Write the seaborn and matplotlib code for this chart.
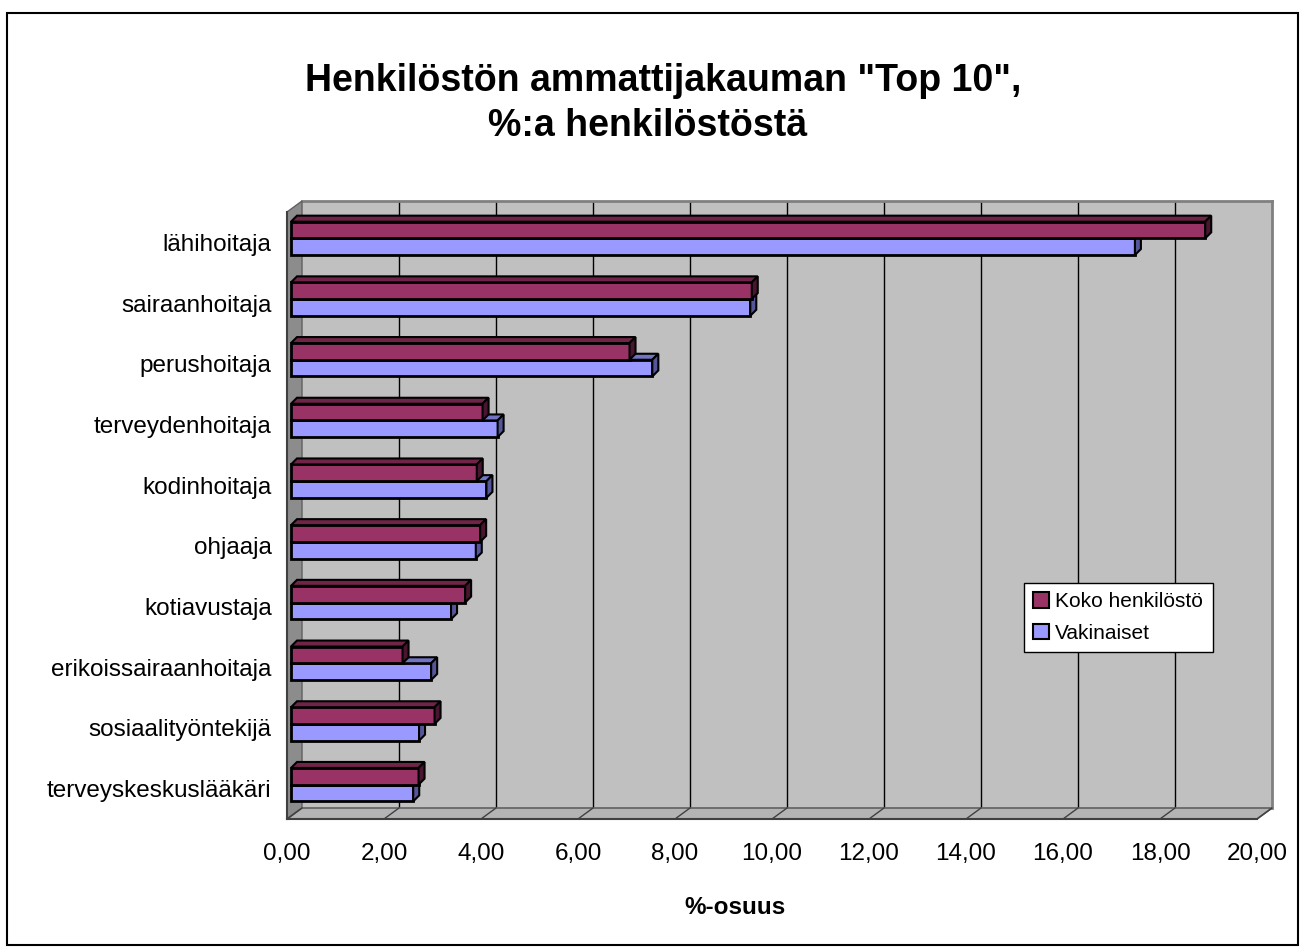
import numpy as np
import pandas as pd
import matplotlib
matplotlib.use("Agg")
import matplotlib.pyplot as plt
import matplotlib.transforms as mtransforms
from matplotlib.patches import Polygon, Rectangle, Patch
from matplotlib.lines import Line2D
from matplotlib.ticker import FuncFormatter
import seaborn as sns

# data
ammatit = ["lähihoitaja", "sairaanhoitaja", "perushoitaja", "terveydenhoitaja",
           "kodinhoitaja", "ohjaaja", "kotiavustaja", "erikoissairaanhoitaja",
           "sosiaalityöntekijä", "terveyskeskuslääkäri"]
koko = [18.85, 9.50, 6.98, 3.95, 3.83, 3.90, 3.59, 2.30, 2.96, 2.63]
vakinaiset = [17.40, 9.47, 7.45, 4.26, 4.03, 3.81, 3.30, 2.89, 2.64, 2.52]
ryhmat = ["Koko henkilöstö", "Vakinaiset"]
varit = ["#993366", "#9999FF"]
x_ticks = np.arange(0, 21, 2)

df = pd.DataFrame({
    "ammatti": ammatit * 2,
    "osuus": koko + vakinaiset,
    "ryhmä": [ryhmat[0]] * len(ammatit) + [ryhmat[1]] * len(ammatit),
})

sns.set_style("white")
plt.rcParams['font.family'] = ['Liberation Sans', 'DejaVu Sans']
plt.rcParams.update({"text.color": "black", "axes.labelcolor": "black",
                     "xtick.color": "black", "ytick.color": "black"})

W, H = 1305, 952
fig = plt.figure(figsize=(W / 100, H / 100), dpi=100)
ident = mtransforms.IdentityTransform()


def px_axes(left, top, right, bottom):
    return [left / W, 1 - bottom / H, (right - left) / W, (bottom - top) / H]


# front plane of the plot and the depth of the fake 3d box
FL, FT, FR, FB = 287, 212, 1257, 819
DX, DY = 15, 11

# back wall
back = fig.add_axes(px_axes(FL + DX, FT - DY, FR + DX, FB - DY))
back.set_facecolor("#C0C0C0")
back.set_xlim(0, 20)
back.set_xticks(x_ticks[1:-1])
back.set_yticks([])
back.tick_params(length=0, labelbottom=False)
back.grid(axis="x", color="black", lw=1)
for s in ["left", "bottom"]:
    back.spines[s].set_visible(False)
for s in ["top", "right"]:
    back.spines[s].set_color("#808080")
    back.spines[s].set_linewidth(2)

# left wall and floor
fig.add_artist(Polygon([(FL, H - FT), (FL, H - FB), (FL + DX, H - FB + DY), (FL + DX, H - FT + DY)],
                       closed=True, fc="#8C8C8C", ec="#606060", lw=1, transform=ident, zorder=0.5))
fig.add_artist(Polygon([(FL, H - FB), (FR, H - FB), (FR + DX, H - FB + DY), (FL + DX, H - FB + DY)],
                       closed=True, fc="#B4B4B4", ec="#606060", lw=1.2, transform=ident, zorder=0.5))

# front axes with the bars
ax = fig.add_axes(px_axes(FL, FT, FR, FB))
ax.set_zorder(1)
sns.barplot(data=df, x="osuus", y="ammatti", hue="ryhmä", palette=varit, orient="h",
            width=0.55, saturation=1, edgecolor="black", linewidth=2, legend=False, ax=ax)
ax.set_facecolor("none")
ax.set_xlim(0, 20)
ax.set_ylim(len(ammatit) - 0.5, -0.5)
ax.set_xlabel("")
ax.set_ylabel("")

ax.set_xticks(x_ticks)
ax.xaxis.set_major_formatter(FuncFormatter(lambda v, p: f"{v:.2f}".replace(".", ",")))
ax.tick_params(axis="x", length=8, width=1, color="#404040", pad=9, labelsize=17.5)
ax.set_yticks(np.arange(-0.5, len(ammatit), 1), labels=[""] * (len(ammatit) + 1))
ax.set_yticks(np.arange(len(ammatit)), labels=ammatit, minor=True)
ax.tick_params(axis="y", which="major", length=8.5, width=1, color="#404040")
ax.tick_params(axis="y", which="minor", length=0, pad=11, labelsize=17.5)
for s in ["top", "right"]:
    ax.spines[s].set_visible(False)
for s in ["left", "bottom"]:
    ax.spines[s].set_color("#404040")
    ax.spines[s].set_linewidth(1.5)

# small diagonal tick lines on the floor
for v in x_ticks:
    xf = ax.transData.transform((v, 0))[0]
    fig.add_artist(Line2D([xf, xf + DX], [H - FB, H - FB + DY], color="#404040", lw=1,
                          transform=ident, zorder=0.6))

# 3d faces of the bars
D = 6
off = mtransforms.offset_copy(ax.transData, fig=fig, x=4, y=4, units="dots")
face_cols = [("#702448", "#4a1530", 4), ("#7373C4", "#55559A", 3)]
for cont, (top_c, side_c, z) in zip(ax.containers, face_cols):
    for bar in cont:
        bar.set_transform(off)
        bar.set_zorder(z)
        x0, y0, w, h = bar.get_x(), bar.get_y(), bar.get_width(), bar.get_height()
        (px0, py0), (px1, py1) = off.transform([(x0, y0), (x0 + w, y0 + h)])
        l, r = min(px0, px1), max(px0, px1)
        b, t = min(py0, py1), max(py0, py1)
        ax.add_patch(Polygon([(l, t), (r, t), (r + D, t + D), (l + D, t + D)], closed=True,
                             fc=top_c, ec="black", lw=1.5, transform=ident, clip_on=False, zorder=z))
        ax.add_patch(Polygon([(r, b), (r, t), (r + D, t + D), (r + D, b + D)], closed=True,
                             fc=side_c, ec="black", lw=1.5, transform=ident, clip_on=False, zorder=z))

# legend
handles = [Patch(facecolor=c, edgecolor="black", lw=1.5) for c in varit]
leg = fig.legend(handles, ryhmat, loc="upper left", bbox_to_anchor=(1024 / W, 1 - 583 / H),
                 frameon=True, fancybox=False, edgecolor="black", facecolor="white",
                 framealpha=1, fontsize=15,
                 handlelength=0.75, handleheight=0.75, handletextpad=0.3,
                 borderpad=0.45, labelspacing=0.6, borderaxespad=0)
leg.get_frame().set_linewidth(1)

# titles
fig.text(663 / W, 1 - 81 / H, 'Henkilöstön ammattijakauman "Top 10",', ha="center", va="center",
         fontsize=27, fontweight="bold")
fig.text(648 / W, 1 - 126 / H, "%:a henkilöstöstä", ha="center", va="center",
         fontsize=27, fontweight="bold")
fig.text(735 / W, 1 - 907 / H, "%-osuus", ha="center", va="center", fontsize=17.5, fontweight="bold")

# outer frame
fig.add_artist(Rectangle((7 / W, 1 - 945 / H), (1298 - 7) / W, (945 - 13) / H,
                         transform=fig.transFigure, fill=False, ec="black", lw=1.5))

fig.savefig("out.png", dpi=100)
